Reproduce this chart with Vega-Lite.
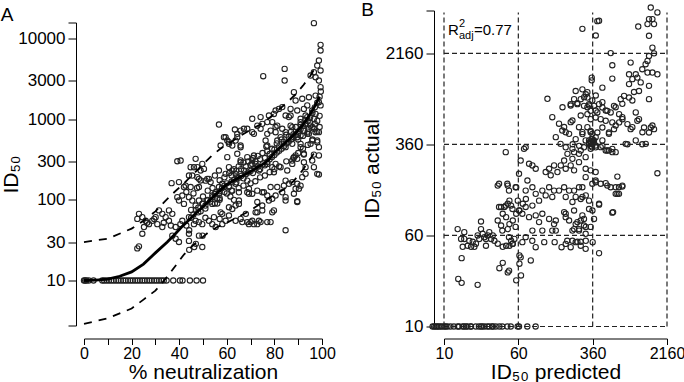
{
  "$schema": "https://vega.github.io/schema/vega-lite/v6.json",
  "background": "white",
  "padding": {"left": 0, "top": 0.5, "right": 0, "bottom": 0},
  "spacing": 25,
  "config": {
    "font": "Liberation Sans",
    "view": {"stroke": null},
    "axis": {
      "domainColor": "#000", "tickColor": "#000", "labelColor": "#000", "titleColor": "#000",
      "labelFontSize": 16, "titleFontSize": 21, "titleFontWeight": "normal",
      "grid": false, "domainWidth": 1, "tickWidth": 1, "labelFlush": false, "labelOverlap": false
    },
    "title": {"fontSize": 19, "fontWeight": "normal", "anchor": "start", "frame": "bounds", "color": "#000"}
  },
  "datasets": {
    "neutA": [
      {"neut":0,"id50":10},{"neut":0.5,"id50":10},{"neut":1,"id50":10},{"neut":2,"id50":10},{"neut":4,"id50":10},{"neut":7.7,"id50":10},{"neut":8.5,"id50":10},{"neut":9.5,"id50":10},{"neut":10.5,"id50":10},{"neut":11.5,"id50":10},{"neut":12.5,"id50":10},{"neut":13.5,"id50":10},{"neut":14.5,"id50":10},{"neut":15.5,"id50":10},{"neut":16.5,"id50":10},{"neut":17.5,"id50":10},{"neut":18.5,"id50":10},{"neut":19.5,"id50":10},{"neut":20.5,"id50":10},{"neut":21.5,"id50":10},{"neut":22.5,"id50":10},{"neut":23.5,"id50":10},{"neut":24.5,"id50":10},{"neut":25.5,"id50":10},{"neut":26.5,"id50":10},{"neut":27.5,"id50":10},{"neut":28.5,"id50":10},{"neut":29.5,"id50":10},{"neut":30.5,"id50":10},{"neut":31.5,"id50":10},{"neut":32.5,"id50":10},{"neut":33.5,"id50":10},{"neut":34.7,"id50":10},{"neut":37.5,"id50":10},{"neut":40.3,"id50":10},{"neut":41.4,"id50":10},{"neut":44.5,"id50":10},{"neut":47.3,"id50":10},{"neut":50,"id50":10},
      {"neut":22.4,"id50":25},{"neut":23.1,"id50":26.5},{"neut":24.5,"id50":38},{"neut":37.1,"id50":36},{"neut":38.5,"id50":33},{"neut":39.9,"id50":30},{"neut":44.1,"id50":38},{"neut":44.1,"id50":31},{"neut":44.2,"id50":24},{"neut":46.3,"id50":26},{"neut":47,"id50":28.5},{"neut":48.3,"id50":36},{"neut":49.7,"id50":26},{"neut":49.8,"id50":36},{"neut":44.2,"id50":42},
      {"neut":23.1,"id50":67},{"neut":24.5,"id50":61},{"neut":25.9,"id50":55},{"neut":27.3,"id50":50},{"neut":28.7,"id50":55},{"neut":30.1,"id50":61},{"neut":31.5,"id50":74},{"neut":32.9,"id50":67},{"neut":34.3,"id50":61},{"neut":35.7,"id50":55},{"neut":30.8,"id50":50},{"neut":32.9,"id50":46},{"neut":35.7,"id50":74},{"neut":37.1,"id50":67},{"neut":25.2,"id50":46},{"neut":22.4,"id50":58},{"neut":26.5,"id50":52},{"neut":29.5,"id50":58},{"neut":33.5,"id50":52},{"neut":36.5,"id50":48},
      {"neut":38.5,"id50":46},{"neut":41.3,"id50":55},{"neut":44.1,"id50":61},{"neut":46.9,"id50":55},{"neut":49.7,"id50":50},{"neut":52.5,"id50":55},{"neut":53.9,"id50":50},{"neut":55.3,"id50":46},{"neut":58.1,"id50":67},{"neut":59.5,"id50":55},{"neut":58.1,"id50":50},{"neut":63.7,"id50":55},{"neut":40.5,"id50":50},{"neut":43,"id50":48},{"neut":51,"id50":60},{"neut":57,"id50":58},
      {"neut":46.2,"id50":50},{"neut":48.3,"id50":53},{"neut":54.6,"id50":61},{"neut":57.4,"id50":70},{"neut":60.9,"id50":64},{"neut":62.3,"id50":77},{"neut":65.1,"id50":89},{"neut":68,"id50":67},{"neut":66.5,"id50":53},{"neut":69.3,"id50":119},{"neut":74.9,"id50":124},{"neut":72.8,"id50":50},{"neut":74.2,"id50":53},{"neut":78.4,"id50":53},{"neut":78.4,"id50":144},{"neut":80.5,"id50":113},{"neut":84.7,"id50":98},{"neut":84.7,"id50":42},{"neut":89.6,"id50":94},{"neut":88.2,"id50":119},{"neut":91,"id50":150},{"neut":79.1,"id50":70},{"neut":74.9,"id50":85},{"neut":72.1,"id50":70},{"neut":70,"id50":53},{"neut":56.7,"id50":119},{"neut":53.9,"id50":89},{"neut":65.1,"id50":124},
      {"neut":39.2,"id50":108},{"neut":41.3,"id50":113},{"neut":39.9,"id50":98},{"neut":42,"id50":89},{"neut":44.1,"id50":108},{"neut":45.5,"id50":98},{"neut":46.9,"id50":85},{"neut":48.3,"id50":98},{"neut":49.7,"id50":89},{"neut":51.8,"id50":98},{"neut":53.9,"id50":113},{"neut":55.3,"id50":124},{"neut":56.7,"id50":144},{"neut":58.1,"id50":158},{"neut":60.9,"id50":144},{"neut":62.3,"id50":130},{"neut":63.7,"id50":158},{"neut":60.9,"id50":81},{"neut":43,"id50":125},{"neut":46,"id50":120},{"neut":50,"id50":110},{"neut":52,"id50":130},{"neut":47.5,"id50":140},{"neut":54,"id50":140},{"neut":57,"id50":105},{"neut":59,"id50":125},{"neut":61.5,"id50":110},{"neut":63,"id50":100},{"neut":45,"id50":75},{"neut":48,"id50":70},{"neut":51,"id50":78},{"neut":56,"id50":90},
      {"neut":56.7,"id50":857},{"neut":59.5,"id50":597},{"neut":60.9,"id50":494},{"neut":63.7,"id50":543},{"neut":39.2,"id50":301},{"neut":46.9,"id50":322},{"neut":44.8,"id50":254},{"neut":47.6,"id50":254},{"neut":49,"id50":231},{"neut":36.8,"id50":161},{"neut":39.9,"id50":166},{"neut":44.1,"id50":200},{"neut":42,"id50":144},{"neut":48.3,"id50":182},{"neut":51.1,"id50":173},{"neut":52.5,"id50":182},{"neut":56.7,"id50":231},{"neut":59.5,"id50":210},{"neut":62.3,"id50":231},{"neut":63.7,"id50":210},{"neut":60.9,"id50":254},
      {"neut":63.4,"id50":745},{"neut":67.2,"id50":760},{"neut":70.7,"id50":1010},{"neut":74.2,"id50":1060},{"neut":77.7,"id50":1110},{"neut":79.1,"id50":920},{"neut":77,"id50":920},{"neut":78.4,"id50":720},{"neut":81.2,"id50":830},{"neut":58.8,"id50":598},{"neut":60.9,"id50":519},{"neut":57.4,"id50":471},{"neut":62.3,"id50":471},{"neut":65.8,"id50":471},{"neut":76.6,"id50":458},{"neut":46.2,"id50":254},{"neut":49.7,"id50":279},{"neut":50.4,"id50":242},{"neut":45.5,"id50":200},{"neut":47.6,"id50":191},{"neut":49,"id50":174},{"neut":51.8,"id50":182},{"neut":53.2,"id50":166},{"neut":60.2,"id50":338},{"neut":64.4,"id50":372},{"neut":65.8,"id50":308},{"neut":68.6,"id50":338},{"neut":70.7,"id50":308},{"neut":72.1,"id50":279},{"neut":73.5,"id50":231},{"neut":77,"id50":279},{"neut":79.1,"id50":254},{"neut":40.6,"id50":307},{"neut":42.7,"id50":150},{"neut":44.8,"id50":144},{"neut":48.3,"id50":144},
      {"neut":96.6,"id50":15500},{"neut":99.4,"id50":8340},{"neut":99.4,"id50":7100},{"neut":75.3,"id50":3410},{"neut":84.3,"id50":4200},{"neut":84.3,"id50":3010},{"neut":98.7,"id50":5330},{"neut":98,"id50":4620},{"neut":96.6,"id50":3820},{"neut":97.3,"id50":3310},{"neut":99.4,"id50":4010},{"neut":95.2,"id50":3470},{"neut":98.7,"id50":3010},{"neut":99.4,"id50":2490},{"neut":88.2,"id50":2160},{"neut":88.9,"id50":1700},{"neut":91.7,"id50":1790},{"neut":94.5,"id50":1870},{"neut":97.3,"id50":1960},{"neut":98.7,"id50":1620},{"neut":99.4,"id50":1480},{"neut":93.8,"id50":1480},{"neut":95.9,"id50":1280},{"neut":97.3,"id50":1160},{"neut":92.4,"id50":1340},{"neut":89.6,"id50":1280},{"neut":86.8,"id50":1110},{"neut":93.8,"id50":1060},{"neut":96.6,"id50":1010},{"neut":83.3,"id50":1410},{"neut":81.9,"id50":1340},{"neut":79.8,"id50":1160},{"neut":72.8,"id50":830},{"neut":74.9,"id50":875},{"neut":80.5,"id50":800},{"neut":86.8,"id50":1340},{"neut":84.7,"id50":1110},{"neut":91,"id50":1010},{"neut":93.1,"id50":875},{"neut":95.2,"id50":830},{"neut":92.4,"id50":720},{"neut":94.5,"id50":658},{"neut":96.6,"id50":760},{"neut":98.7,"id50":690},{"neut":91,"id50":627},{"neut":86.8,"id50":830},{"neut":84.7,"id50":690},{"neut":82.6,"id50":598},{"neut":87.5,"id50":570},{"neut":60.2,"id50":543},{"neut":64.4,"id50":598},{"neut":68.6,"id50":760},{"neut":65.8,"id50":720},
      {"neut":80.5,"id50":1280},{"neut":70.7,"id50":689},{"neut":74.2,"id50":760},{"neut":76.3,"id50":543},{"neut":80.5,"id50":689},{"neut":83.3,"id50":760},{"neut":86.1,"id50":1060},{"neut":87.5,"id50":795},{"neut":91,"id50":917},{"neut":93.1,"id50":1110},{"neut":94.5,"id50":760},{"neut":97.3,"id50":689},{"neut":98,"id50":543},{"neut":98.7,"id50":450},{"neut":84.7,"id50":450},{"neut":87.5,"id50":494},{"neut":91,"id50":494},{"neut":92.4,"id50":372},{"neut":95.9,"id50":543},{"neut":93.8,"id50":658},{"neut":89.6,"id50":597},{"neut":95.9,"id50":307},{"neut":96.6,"id50":254},{"neut":98,"id50":210},{"neut":98.7,"id50":355},{"neut":93.1,"id50":254},{"neut":88.9,"id50":355},{"neut":87.5,"id50":307},
      {"neut":98.7,"id50":206},{"neut":92.4,"id50":364},{"neut":96.6,"id50":364},{"neut":77,"id50":471},{"neut":81.2,"id50":543},{"neut":91,"id50":449},{"neut":95.2,"id50":494},{"neut":98,"id50":518},{"neut":88.2,"id50":337},{"neut":89.6,"id50":322},{"neut":87.5,"id50":279},{"neut":82.6,"id50":254},{"neut":80.5,"id50":279},{"neut":85.4,"id50":231},{"neut":79.8,"id50":220},{"neut":84.7,"id50":173},{"neut":86.1,"id50":158},{"neut":87.5,"id50":166},{"neut":89.6,"id50":158},{"neut":88.9,"id50":137},{"neut":90.3,"id50":137},{"neut":91.7,"id50":191},{"neut":84,"id50":150},{"neut":83.3,"id50":124},{"neut":84.7,"id50":108},{"neut":81.2,"id50":144},{"neut":89.6,"id50":96},{"neut":79.8,"id50":74},{"neut":77,"id50":113},{"neut":79.1,"id50":103},{"neut":77.7,"id50":98},{"neut":75.6,"id50":124},{"neut":69.3,"id50":137},{"neut":68.6,"id50":124},{"neut":70.7,"id50":119},{"neut":72.8,"id50":130},{"neut":65.1,"id50":98},{"neut":63.7,"id50":85},{"neut":72.8,"id50":94},{"neut":74.9,"id50":74},{"neut":72.8,"id50":70},{"neut":65.8,"id50":58},{"neut":68.6,"id50":53},{"neut":70.7,"id50":55},{"neut":73.5,"id50":55},{"neut":77,"id50":53},{"neut":71.4,"id50":50},{"neut":69.3,"id50":50},{"neut":65.8,"id50":292},{"neut":67.2,"id50":231},{"neut":68.6,"id50":173},{"neut":64.4,"id50":191},{"neut":70.7,"id50":279},{"neut":71.4,"id50":354},{"neut":65.8,"id50":449},{"neut":64.4,"id50":658},{"neut":71.4,"id50":658},{"neut":77,"id50":658},{"neut":92.4,"id50":292},{"neut":93.1,"id50":210},
      {"neut":45,"id50":60},{"neut":46,"id50":66},{"neut":47,"id50":75},{"neut":48,"id50":80},{"neut":49,"id50":72},{"neut":50,"id50":90},{"neut":51,"id50":85},{"neut":52,"id50":100},{"neut":53,"id50":95},{"neut":54,"id50":108},{"neut":55,"id50":118},{"neut":56,"id50":105},{"neut":57,"id50":128},{"neut":58,"id50":140},{"neut":59,"id50":150},{"neut":60,"id50":160},{"neut":61,"id50":148},{"neut":62,"id50":168},{"neut":63,"id50":178},{"neut":64,"id50":165},{"neut":65,"id50":188},{"neut":66,"id50":198},{"neut":67,"id50":185},{"neut":68,"id50":208},{"neut":69,"id50":218},{"neut":70,"id50":228},{"neut":71,"id50":215},{"neut":72,"id50":245},{"neut":73,"id50":258},{"neut":74,"id50":240},{"neut":75,"id50":275},{"neut":76,"id50":268},{"neut":77,"id50":295},{"neut":78,"id50":318},{"neut":79,"id50":340},{"neut":80,"id50":360},{"neut":81,"id50":385},{"neut":82,"id50":405},{"neut":83,"id50":430},{"neut":84,"id50":460},{"neut":85,"id50":500},{"neut":86,"id50":525},{"neut":87,"id50":560},{"neut":88,"id50":600},{"neut":89,"id50":640},{"neut":90,"id50":700},{"neut":91,"id50":750},{"neut":92,"id50":820},{"neut":93,"id50":880},{"neut":94,"id50":950},{"neut":95,"id50":1050},{"neut":96,"id50":1200},{"neut":97,"id50":1400},{"neut":98,"id50":1600},{"neut":99,"id50":1900},{"neut":99.5,"id50":2200},
      {"neut":55,"id50":200},{"neut":57,"id50":175},{"neut":59,"id50":190},{"neut":61,"id50":215},{"neut":63,"id50":240},{"neut":65,"id50":260},{"neut":67,"id50":290},{"neut":69,"id50":300},{"neut":71,"id50":330},{"neut":73,"id50":350},{"neut":75,"id50":380},{"neut":77,"id50":400},{"neut":79,"id50":430},{"neut":62,"id50":200},{"neut":64,"id50":230},{"neut":66,"id50":240},{"neut":68,"id50":260},{"neut":70,"id50":270},{"neut":72,"id50":300},{"neut":74,"id50":320},{"neut":76,"id50":330},{"neut":78,"id50":370},{"neut":80,"id50":420},{"neut":82,"id50":460},{"neut":84,"id50":520},{"neut":86,"id50":600},{"neut":88,"id50":650},{"neut":90,"id50":560},{"neut":92,"id50":620},{"neut":94,"id50":700},{"neut":96,"id50":800},{"neut":98,"id50":950},{"neut":99,"id50":1100},{"neut":97,"id50":870},{"neut":95,"id50":900},{"neut":93,"id50":980},{"neut":91,"id50":850},{"neut":89,"id50":800},{"neut":87,"id50":700},{"neut":85,"id50":640},{"neut":83,"id50":560},{"neut":81,"id50":500},
      {"neut":55,"id50":90},{"neut":57,"id50":100},{"neut":60,"id50":120},{"neut":62,"id50":130},{"neut":65,"id50":140},{"neut":67,"id50":150},{"neut":70,"id50":160},{"neut":72,"id50":170},{"neut":74,"id50":190},{"neut":76,"id50":200},{"neut":78,"id50":220},{"neut":80,"id50":240},{"neut":82,"id50":260},{"neut":85,"id50":300},{"neut":88,"id50":330},{"neut":90,"id50":380},{"neut":92,"id50":430},{"neut":94,"id50":480},{"neut":96,"id50":560},{"neut":98,"id50":700},{"neut":99,"id50":800}
    ],
    "fitA": [
      {"neut":0,"id50":10},{"neut":5,"id50":10.1},{"neut":10,"id50":10.4},{"neut":15,"id50":11.3},{"neut":20,"id50":12.8},{"neut":25,"id50":16},{"neut":30,"id50":22},{"neut":35,"id50":30},{"neut":38,"id50":37},{"neut":41,"id50":46},{"neut":44,"id50":56},{"neut":47,"id50":68},{"neut":50,"id50":82},{"neut":53,"id50":100},{"neut":56,"id50":122},{"neut":60,"id50":155},{"neut":63,"id50":175},{"neut":66,"id50":195},{"neut":70,"id50":225},{"neut":73,"id50":255},{"neut":76,"id50":285},{"neut":78,"id50":325},{"neut":80,"id50":385},{"neut":83,"id50":465},{"neut":86,"id50":555},{"neut":89,"id50":680},{"neut":92,"id50":850},{"neut":95,"id50":1150},{"neut":97,"id50":1450},{"neut":99,"id50":1900}
    ],
    "bandA": [
      {"side":"upper","neut":0,"id50":30},{"side":"upper","neut":10,"id50":33},{"side":"upper","neut":20,"id50":44},{"side":"upper","neut":25,"id50":55},{"side":"upper","neut":30,"id50":72},{"side":"upper","neut":34,"id50":96},{"side":"upper","neut":38,"id50":125},{"side":"upper","neut":42,"id50":160},{"side":"upper","neut":46,"id50":210},{"side":"upper","neut":50,"id50":275},{"side":"upper","neut":54,"id50":360},{"side":"upper","neut":58,"id50":445},{"side":"upper","neut":62,"id50":525},{"side":"upper","neut":66,"id50":630},{"side":"upper","neut":70,"id50":740},{"side":"upper","neut":74,"id50":860},{"side":"upper","neut":78,"id50":1040},{"side":"upper","neut":82,"id50":1320},{"side":"upper","neut":86,"id50":1680},{"side":"upper","neut":89,"id50":2040},{"side":"upper","neut":92,"id50":2600},{"side":"upper","neut":95,"id50":3400},{"side":"upper","neut":97,"id50":4300},
      {"side":"lower","neut":0,"id50":2.9},{"side":"lower","neut":10,"id50":3.4},{"side":"lower","neut":20,"id50":4.5},{"side":"lower","neut":25,"id50":5.8},{"side":"lower","neut":30,"id50":7.5},{"side":"lower","neut":33,"id50":9.5},{"side":"lower","neut":36,"id50":12.2},{"side":"lower","neut":39,"id50":16},{"side":"lower","neut":42,"id50":21},{"side":"lower","neut":45,"id50":26},{"side":"lower","neut":48,"id50":31},{"side":"lower","neut":52,"id50":39},{"side":"lower","neut":56,"id50":46},{"side":"lower","neut":60,"id50":52},{"side":"lower","neut":64,"id50":60},{"side":"lower","neut":68.6,"id50":70},{"side":"lower","neut":73,"id50":85},{"side":"lower","neut":78.4,"id50":108},{"side":"lower","neut":84,"id50":135},{"side":"lower","neut":88,"id50":170},{"side":"lower","neut":91.7,"id50":230},{"side":"lower","neut":94,"id50":290},{"side":"lower","neut":96,"id50":355},{"side":"lower","neut":98,"id50":430}
    ],
    "predB": [
      {"pred":7.6,"actual":10},{"pred":7.9,"actual":10},{"pred":8.2,"actual":10},{"pred":8.5,"actual":10},{"pred":8.8,"actual":10},{"pred":9.2,"actual":10},{"pred":9.6,"actual":10},{"pred":10.1,"actual":10},{"pred":10.4,"actual":10},{"pred":10.9,"actual":10},{"pred":11.7,"actual":10},{"pred":12.7,"actual":10},{"pred":13.9,"actual":10},{"pred":14.4,"actual":10},{"pred":15.7,"actual":10},{"pred":16.2,"actual":10},{"pred":17,"actual":10},{"pred":17.6,"actual":10},{"pred":19,"actual":10},{"pred":19.2,"actual":10},{"pred":21.5,"actual":10},{"pred":23.2,"actual":10},{"pred":24.4,"actual":10},{"pred":25.2,"actual":10},{"pred":26.5,"actual":10},{"pred":28.4,"actual":10},{"pred":29.8,"actual":10},{"pred":32,"actual":10},{"pred":32.4,"actual":10},{"pred":34.8,"actual":10},{"pred":38,"actual":10},{"pred":40.8,"actual":10},{"pred":46,"actual":10},{"pred":50,"actual":10},{"pred":59,"actual":10},{"pred":61,"actual":10},{"pred":74.5,"actual":10},{"pred":91,"actual":10},
      {"pred":13.9,"actual":68},{"pred":16.3,"actual":64},{"pred":15.1,"actual":56},{"pred":16.3,"actual":56},{"pred":18.4,"actual":54},{"pred":20,"actual":53},{"pred":17.7,"actual":49},{"pred":15.7,"actual":48},{"pred":19.2,"actual":48},{"pred":20.8,"actual":48},{"pred":21.6,"actual":51},{"pred":23.4,"actual":56},{"pred":22.5,"actual":60},{"pred":25.4,"actual":62},{"pred":24.4,"actual":68},{"pred":26.5,"actual":58},{"pred":27.5,"actual":56},{"pred":28.7,"actual":60},{"pred":29.8,"actual":64},{"pred":32.4,"actual":60},{"pred":31.1,"actual":56},{"pred":27.5,"actual":49},{"pred":24.4,"actual":79},{"pred":33.7,"actual":54},{"pred":36.5,"actual":51},{"pred":41.2,"actual":48},{"pred":44.7,"actual":49},{"pred":48.4,"actual":49},{"pred":52.5,"actual":51},{"pred":50.4,"actual":54},{"pred":54.6,"actual":56},{"pred":46.5,"actual":68},{"pred":48.4,"actual":75},{"pred":39.6,"actual":73},{"pred":36.5,"actual":80.5},{"pred":41.2,"actual":92},{"pred":39.6,"actual":105},{"pred":46.5,"actual":112},{"pred":44.7,"actual":86},{"pred":52.5,"actual":80.5},{"pred":57,"actual":92},{"pred":61.6,"actual":98},{"pred":66.8,"actual":112},{"pred":72,"actual":123},{"pred":59.2,"actual":119},{"pred":50.4,"actual":108},{"pred":42.9,"actual":105},{"pred":48.4,"actual":119},{"pred":36.5,"actual":160},{"pred":46.5,"actual":160},{"pred":57,"actual":155},{"pred":15.3,"actual":38.4},{"pred":41.2,"actual":35},{"pred":38,"actual":31.5},{"pred":46.5,"actual":29},{"pred":61.6,"actual":40.5},{"pred":61.6,"actual":34.4},{"pred":64,"actual":27.3},{"pred":57,"actual":24.8},{"pred":14.1,"actual":25.5},{"pred":15.3,"actual":23.6},{"pred":22.5,"actual":22.7},
      {"pred":48,"actual":30},{"pred":63.5,"actual":39},{"pred":81,"actual":36.7},{"pred":420,"actual":42.3},{"pred":578,"actual":94},{"pred":679,"actual":155},{"pred":736,"actual":160},{"pred":627,"actual":136},{"pred":513,"actual":160},{"pred":420,"actual":110},{"pred":357,"actual":166},{"pred":387,"actual":171},{"pred":305,"actual":132},{"pred":270,"actual":123},{"pred":221,"actual":116},{"pred":230,"actual":145},{"pred":281,"actual":155},{"pred":188,"actual":86},{"pred":181,"actual":95},{"pred":142,"actual":75},{"pred":148,"actual":66},{"pred":249,"actual":78},{"pred":259,"actual":68},{"pred":305,"actual":71},{"pred":292,"actual":83},{"pred":221,"actual":54},{"pred":249,"actual":53},{"pred":270,"actual":53},{"pred":305,"actual":54},{"pred":84,"actual":54},
      {"pred":121,"actual":883},{"pred":212,"actual":774},{"pred":249,"actual":809},{"pred":174,"actual":748},{"pred":293,"actual":912},{"pred":330,"actual":774},{"pred":388,"actual":942},{"pred":317,"actual":1007},{"pred":136,"actual":615},{"pred":160,"actual":541},{"pred":181,"actual":507},{"pred":212,"actual":558},{"pred":281,"actual":458},{"pred":343,"actual":458},{"pred":372,"actual":389},{"pred":304,"actual":389},{"pred":343,"actual":330},{"pred":270,"actual":319},{"pred":230,"actual":309},{"pred":196,"actual":299},{"pred":181,"actual":262},{"pred":221,"actual":271},{"pred":259,"actual":254},{"pred":304,"actual":280},{"pred":330,"actual":364},{"pred":387,"actual":415},{"pred":44.3,"actual":309},{"pred":68.8,"actual":330},{"pred":77.7,"actual":246},{"pred":84.2,"actual":238},{"pred":74.7,"actual":177},{"pred":91.2,"actual":223},{"pred":126,"actual":223},{"pred":116,"actual":209},{"pred":131,"actual":196},{"pred":154,"actual":209},{"pred":167,"actual":238},{"pred":188,"actual":223},{"pred":230,"actual":216},{"pred":142,"actual":238},{"pred":212,"actual":238},{"pred":304,"actual":223},{"pred":343,"actual":216},{"pred":304,"actual":189},{"pred":387,"actual":209},
      {"pred":37.7,"actual":166},{"pred":46,"actual":166},{"pred":56.2,"actual":155},{"pred":47.9,"actual":145},{"pred":71.6,"actual":145},{"pred":84.2,"actual":155},{"pred":91.2,"actual":136},{"pred":107,"actual":145},{"pred":126,"actual":155},{"pred":142,"actual":145},{"pred":116,"actual":132},{"pred":98.9,"actual":119},{"pred":136,"actual":128},{"pred":160,"actual":145},{"pred":181,"actual":155},{"pred":204,"actual":145},{"pred":259,"actual":155},{"pred":281,"actual":128},{"pred":330,"actual":119},{"pred":239,"actual":128},{"pred":188,"actual":128},
      {"pred":37.7,"actual":105},{"pred":44.3,"actual":108},{"pred":52.1,"actual":101},{"pred":61,"actual":98},{"pred":71.6,"actual":105},{"pred":84.2,"actual":108},{"pred":66.1,"actual":92},{"pred":77.7,"actual":86},{"pred":91.2,"actual":89},{"pred":107,"actual":92},{"pred":98.9,"actual":78},{"pred":126,"actual":83},{"pred":148,"actual":80.5},{"pred":188,"actual":92},{"pred":230,"actual":98},{"pred":281,"actual":89},{"pred":330,"actual":101},{"pred":372,"actual":83},{"pred":239,"actual":75},{"pred":204,"actual":80.5},{"pred":259,"actual":66},{"pred":304,"actual":62},{"pred":107,"actual":66},{"pred":40.8,"actual":66},{"pred":56.2,"actual":71},{"pred":84.2,"actual":66},{"pred":136,"actual":66},{"pred":71.6,"actual":58},{"pred":47.9,"actual":58},
      {"pred":52.1,"actual":50.8},{"pred":66.1,"actual":52.6},{"pred":91.2,"actual":47.6},{"pred":112,"actual":52.6},{"pred":144,"actual":52.6},{"pred":188,"actual":50.8},{"pred":239,"actual":52.6},{"pred":212,"actual":47.6},{"pred":270,"actual":49},{"pred":304,"actual":46.1},{"pred":360,"actual":52.6},{"pred":170,"actual":47.6},
      {"pred":61,"actual":202},{"pred":71.6,"actual":340},{"pred":63.5,"actual":262},{"pred":281,"actual":3500},{"pred":403,"actual":4070},{"pred":388,"actual":3070},{"pred":173,"actual":473},{"pred":188,"actual":457},{"pred":204,"actual":443},{"pred":148,"actual":415},{"pred":166,"actual":364},{"pred":188,"actual":340},{"pred":221,"actual":330},{"pred":259,"actual":299},{"pred":292,"actual":340},{"pred":330,"actual":389},{"pred":357,"actual":443},{"pred":317,"actual":505},{"pred":259,"actual":505},{"pred":221,"actual":576},{"pred":270,"actual":636},{"pred":317,"actual":748},{"pred":357,"actual":855},{"pred":455,"actual":826},{"pred":387,"actual":701},{"pred":493,"actual":701},{"pred":627,"actual":748},{"pred":736,"actual":800},{"pred":937,"actual":855},{"pred":736,"actual":615},{"pred":627,"actual":522},{"pred":533,"actual":443},{"pred":455,"actual":389},{"pred":387,"actual":340},{"pred":493,"actual":319},{"pred":578,"actual":309},{"pred":798,"actual":364},{"pred":1017,"actual":389},{"pred":1294,"actual":364},{"pred":1520,"actual":522},{"pred":1194,"actual":457},{"pred":937,"actual":505},
      {"pred":1460,"actual":5320},{"pred":1714,"actual":4830},{"pred":1400,"actual":4240},{"pred":1520,"actual":4240},{"pred":1580,"actual":3840},{"pred":1350,"actual":3840},{"pred":1080,"actual":3660},{"pred":1400,"actual":3050},{"pred":420,"actual":4100},{"pred":556,"actual":2170},{"pred":1520,"actual":2415},{"pred":1580,"actual":2160},{"pred":1400,"actual":2050},{"pred":1350,"actual":1860},{"pred":578,"actual":1710},{"pred":899,"actual":1800},{"pred":1290,"actual":1745},{"pred":1190,"actual":1580},{"pred":1017,"actual":1430},{"pred":865,"actual":1430},{"pred":937,"actual":1300},{"pred":1057,"actual":1340},{"pred":1146,"actual":1220},{"pred":1350,"actual":1480},{"pred":1520,"actual":1480},{"pred":1714,"actual":1430},{"pred":1400,"actual":1140},{"pred":1100,"actual":1030},{"pred":975,"actual":1010},{"pred":865,"actual":1180},{"pred":767,"actual":935},{"pred":865,"actual":905},{"pred":1400,"actual":877},{"pred":578,"actual":1315},{"pred":708,"actual":877},{"pred":681,"actual":653},{"pred":602,"actual":769},{"pred":352,"actual":1340},{"pred":352,"actual":1270},{"pred":455,"actual":1100},
      {"pred":239,"actual":1030},{"pred":281,"actual":1064},{"pred":305,"actual":965},{"pred":230,"actual":877},{"pred":270,"actual":877},{"pred":317,"actual":905},{"pred":330,"actual":795},{"pred":372,"actual":769},{"pred":420,"actual":795},{"pred":455,"actual":745},{"pred":513,"actual":697},{"pred":556,"actual":675},{"pred":403,"actual":675},{"pred":343,"actual":697},{"pred":292,"actual":769},{"pred":249,"actual":795},{"pred":212,"actual":795},{"pred":437,"actual":591},{"pred":493,"actual":573},{"pred":578,"actual":555},{"pred":387,"actual":611},{"pred":343,"actual":591},{"pred":317,"actual":653},{"pred":681,"actual":555},{"pred":738,"actual":591},{"pred":602,"actual":486},{"pred":832,"actual":537},{"pred":1017,"actual":675},{"pred":1100,"actual":591},{"pred":1057,"actual":573},{"pred":899,"actual":486},{"pred":1242,"actual":502},{"pred":1460,"actual":502},{"pred":1580,"actual":486},{"pred":1400,"actual":455},{"pred":455,"actual":502},{"pred":533,"actual":455},{"pred":403,"actual":455},{"pred":343,"actual":470},{"pred":281,"actual":441},{"pred":357,"actual":399},{"pred":239,"actual":399},{"pred":832,"actual":361},{"pred":1190,"actual":361},{"pred":222,"actual":361},{"pred":260,"actual":350},{"pred":455,"actual":350},{"pred":578,"actual":330},{"pred":533,"actual":320},
      {"pred":330,"actual":370},{"pred":345,"actual":380},{"pred":360,"actual":365},{"pred":350,"actual":400},{"pred":365,"actual":390},{"pred":340,"actual":350},{"pred":355,"actual":340},{"pred":370,"actual":375},
      {"pred":513,"actual":319},{"pred":627,"actual":309},{"pred":437,"actual":341},{"pred":387,"actual":352},{"pred":1714,"actual":204},{"pred":653,"actual":191},{"pred":387,"actual":177},{"pred":437,"actual":166},{"pred":493,"actual":168},{"pred":556,"actual":155},{"pred":627,"actual":155},{"pred":736,"actual":157},{"pred":653,"actual":136},{"pred":679,"actual":136},{"pred":420,"actual":112},{"pred":589,"actual":95},{"pred":358,"actual":98},{"pred":195,"actual":54},{"pred":270,"actual":80.5},{"pred":292,"actual":73},{"pred":230,"actual":68},{"pred":221,"actual":66},{"pred":343,"actual":71}
    ],
    "gridV": [{"pred":10},{"pred":60},{"pred":360},{"pred":2160}],
    "gridH": [{"actual":10},{"actual":60},{"actual":360},{"actual":2160}],
    "fitStat": [{"pred":11,"actual":3070}]
  },
  "hconcat": [
    {
      "width": 238,
      "height": 315,
      "title": {"text": "A", "offset": -14},
      "encoding": {
        "x": {"field": "neut", "type": "quantitative", "title": "% neutralization",
              "scale": {"domain": [0, 100], "nice": false, "zero": false},
              "axis": {"values": [0,10,20,30,40,50,60,70,80,90,100], "labelExpr": "datum.value % 20 === 0 ? datum.label : ''",
                       "offset": 13, "tickSize": 6, "labelPadding": 1, "titlePadding": 0}},
        "y": {"field": "id50", "type": "quantitative", "title": "ID₅₀",
              "scale": {"type": "log", "domain": [2.77, 15780], "range": [315, 12], "nice": false},
              "axis": {"values": [2.77,10,30,100,300,1000,3000,10000,15780],
                       "labelExpr": "datum.value < 5 || datum.value > 12000 ? '' : format(datum.value, 'd')",
                       "offset": 8, "tickSize": 8, "labelPadding": 3, "labelFontSize": 17, "titlePadding": -4}}
      },
      "layer": [
        {"data": {"name": "neutA"},
         "mark": {"type": "point", "shape": "circle", "filled": false, "size": 28, "strokeWidth": 1.1, "color": "#222", "opacity": 1}},
        {"data": {"name": "fitA"},
         "mark": {"type": "line", "color": "#000", "strokeWidth": 2.8}},
        {"data": {"name": "bandA"},
         "mark": {"type": "line", "color": "#000", "strokeWidth": 1.8, "strokeDash": [8, 7]},
         "encoding": {"detail": {"field": "side"}}}
      ]
    },
    {
      "width": 223,
      "height": 316,
      "title": {"text": "B", "offset": -18},
      "layer": [
        {"data": {"name": "gridV"},
         "mark": {"type": "rule", "color": "#222", "strokeWidth": 1.2, "strokeDash": [5, 3]},
         "encoding": {
           "x": {"field": "pred", "type": "quantitative", "title": "ID₅₀ predicted",
                 "scale": {"type": "log", "domain": [10, 2160], "nice": false},
                 "axis": {"values": [10, 60, 360, 2160], "format": "d", "offset": 12, "tickSize": 6, "labelPadding": 1, "titlePadding": 0}},
           "y": {"datum": 10, "type": "quantitative"},
           "y2": {"datum": 4830}
         }},
        {"data": {"name": "gridH"},
         "mark": {"type": "rule", "color": "#222", "strokeWidth": 1.2, "strokeDash": [5, 3]},
         "encoding": {
           "y": {"field": "actual", "type": "quantitative", "title": "ID₅₀ actual",
                 "scale": {"type": "log", "domain": [10, 5020], "nice": false},
                 "axis": {"values": [10, 60, 360, 2160, 5020], "labelExpr": "datum.value > 3000 ? '' : format(datum.value, 'd')",
                          "offset": 10, "tickSize": 8, "labelPadding": 3, "labelFontSize": 17, "titlePadding": 3}},
           "x": {"datum": 10, "type": "quantitative"},
           "x2": {"datum": 2160}
         }},
        {"data": {"name": "predB"},
         "mark": {"type": "point", "shape": "circle", "filled": false, "size": 28, "strokeWidth": 1.1, "color": "#222", "opacity": 1},
         "encoding": {
           "x": {"field": "pred", "type": "quantitative", "title": "ID₅₀ predicted"},
           "y": {"field": "actual", "type": "quantitative", "title": "ID₅₀ actual"}
         }},
        {"data": {"name": "fitStat"},
         "mark": {"type": "text", "text": "R", "fontSize": 15, "align": "left", "baseline": "alphabetic", "color": "#000"},
         "encoding": {"x": {"field": "pred", "type": "quantitative", "title": "ID₅₀ predicted"}, "y": {"field": "actual", "type": "quantitative", "title": "ID₅₀ actual"}}},
        {"data": {"name": "fitStat"},
         "mark": {"type": "text", "text": "2", "fontSize": 11, "align": "left", "baseline": "alphabetic", "dx": 11, "dy": -8, "color": "#000"},
         "encoding": {"x": {"field": "pred", "type": "quantitative", "title": "ID₅₀ predicted"}, "y": {"field": "actual", "type": "quantitative", "title": "ID₅₀ actual"}}},
        {"data": {"name": "fitStat"},
         "mark": {"type": "text", "text": "adj", "fontSize": 11, "align": "left", "baseline": "alphabetic", "dx": 11, "dy": 4, "color": "#000"},
         "encoding": {"x": {"field": "pred", "type": "quantitative", "title": "ID₅₀ predicted"}, "y": {"field": "actual", "type": "quantitative", "title": "ID₅₀ actual"}}},
        {"data": {"name": "fitStat"},
         "mark": {"type": "text", "text": "=0.77", "fontSize": 15, "align": "left", "baseline": "alphabetic", "dx": 26, "color": "#000"},
         "encoding": {"x": {"field": "pred", "type": "quantitative", "title": "ID₅₀ predicted"}, "y": {"field": "actual", "type": "quantitative", "title": "ID₅₀ actual"}}}
      ]
    }
  ]
}
